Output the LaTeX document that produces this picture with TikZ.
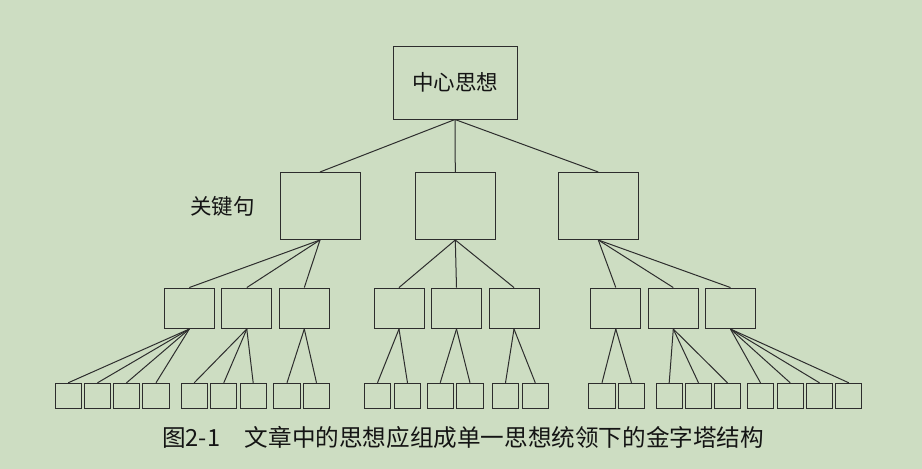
\documentclass[tikz,border=0pt]{standalone}
\usepackage{fontspec}
\newfontfamily\cjk{Noto Sans CJK SC}
\definecolor{bgc}{RGB}{205,221,194}
\definecolor{ln}{RGB}{45,45,45}
\definecolor{tx}{RGB}{20,20,20}
\begin{document}
\begin{tikzpicture}[x=1pt,y=-1pt,
  box/.style={draw=ln,line width=1pt,rectangle,inner sep=0pt},
  topbox/.style={box,minimum width=124pt,minimum height=73pt,font=\cjk\fontsize{21.5}{24}\selectfont,text=tx},
  keybox/.style={box,minimum width=80pt,minimum height=67pt},
  midbox/.style={box,minimum width=50pt,minimum height=40.5pt},
  leafbox/.style={box,minimum width=26.3pt,minimum height=25pt},
  conn/.style={draw=ln,line width=1pt},
  lbl/.style={font=\cjk\fontsize{21.5}{24}\selectfont,text=tx,inner sep=0pt},
  captext/.style={font=\cjk\fontsize{23.6}{26}\selectfont,text=tx,inner sep=0pt}]
\fill[bgc] (0,0) rectangle (922,469);
\useasboundingbox (0,0) rectangle (922,469);
% top
\node[topbox] (top) at (455,82.5) {中心思想};
% level 2
\node[keybox] (k1) at (320,206) {};
\node[keybox] (k2) at (455.3,206) {};
\node[keybox] (k3) at (598.3,206) {};
\node[lbl] (kl) at (222.3,206.7) {关键句};
% level 3
\foreach \n/\x in {1/189.3,2/246.8,3/304.3,4/399,5/456.5,6/514,7/615.8,8/673.3,9/730.5}
  \node[midbox] (m\n) at (\x,308.3) {};
% level 4
\foreach \n/\x in {1/68.2,2/97.5,3/126.5,4/156,5/194.2,6/223.8,7/253.2,8/287,9/316.5,10/377.5,11/407.5,12/440.2,13/470,14/505.5,15/535.3,16/602,17/631.5,18/669.2,19/698.5,20/727.5,21/760.5,22/790.2,23/819.5,24/848.8}
  \node[leafbox] (l\n) at (\x,395.8) {};
% connectors
\foreach \k in {1,2,3} \draw[conn] (top.south) -- (k\k.north);
\foreach \m in {1,2,3} \draw[conn] (k1.south) -- (m\m.north);
\foreach \m in {4,5,6} \draw[conn] (k2.south) -- (m\m.north);
\foreach \m in {7,8,9} \draw[conn] (k3.south) -- (m\m.north);
\foreach \p/\c in {1/1,1/2,1/3,1/4,2/5,2/6,2/7,3/8,3/9,4/10,4/11,5/12,5/13,6/14,6/15,7/16,7/17,8/18,8/19,8/20,9/21,9/22,9/23,9/24}
  \draw[conn] (m\p.south) -- (l\c.north);
% caption
\node[captext,anchor=west] (caption) at (162,437) {图2-1\hspace{1.05em}文章中的思想应组成单一思想统领下的金字塔结构};
\end{tikzpicture}
\end{document}
